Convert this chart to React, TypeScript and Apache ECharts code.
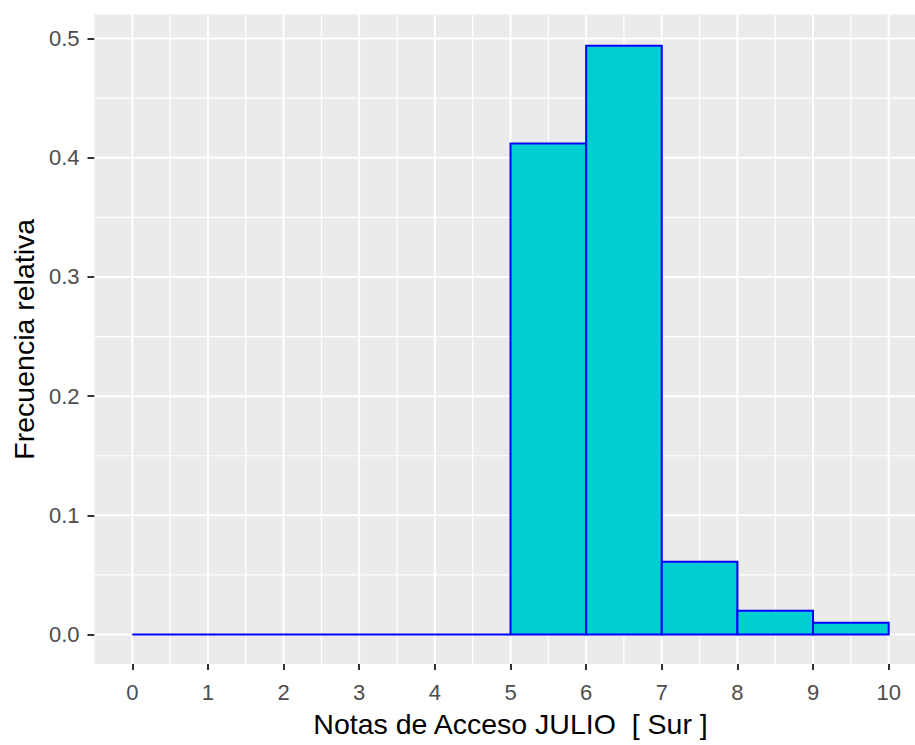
import React, { useEffect, useRef } from 'react';
import * as echarts from 'echarts';

// Histogram bins (start of each bin, width 1) and relative frequencies
const binStarts = [0, 1, 2, 3, 4, 5, 6, 7, 8, 9];
const binWidth = 1;
const relFreq = [0, 0, 0, 0, 0, 0.412, 0.494, 0.061, 0.02, 0.01];

// Axis ticks / grid lines
const xTicks = [0, 1, 2, 3, 4, 5, 6, 7, 8, 9, 10];
const xMinor = [0.5, 1.5, 2.5, 3.5, 4.5, 5.5, 6.5, 7.5, 8.5, 9.5];
const yTicks = [0, 0.1, 0.2, 0.3, 0.4, 0.5];
const yMinor = [0.05, 0.15, 0.25, 0.35, 0.45];

const xTitle = 'Notas de Acceso JULIO  [ Sur ]';
const yTitle = 'Frecuencia relativa';

const FONT = '"Liberation Sans", Arial, sans-serif';

export default function App() {
  const ref = useRef<HTMLDivElement>(null);

  useEffect(() => {
    if (!ref.current) return;
    const chart = echarts.init(ref.current, undefined, { renderer: 'svg' });

    const gridData: number[][] = [];
    xTicks.forEach((v) => gridData.push([0, v, 1]));
    xMinor.forEach((v) => gridData.push([0, v, 0]));
    yTicks.forEach((v) => gridData.push([1, v, 1]));
    yMinor.forEach((v) => gridData.push([1, v, 0]));

    const barData = binStarts.map((s, i) => [s, s + binWidth, relFreq[i]]);

    chart.setOption({
      animation: false,
      grid: {
        left: 94.5,
        top: 14.5,
        width: 832,
        height: 649.5,
        show: true,
        backgroundColor: '#EBEBEB',
        borderWidth: 0,
      },
      xAxis: {
        type: 'value',
        min: -0.5,
        max: 10.5,
        splitLine: { show: false },
        axisLine: { show: false, onZero: false },
        axisTick: {
          show: true,
          customValues: xTicks,
          length: 6,
          lineStyle: { color: '#333333', width: 2 },
        },
        axisLabel: {
          customValues: xTicks,
          color: '#4D4D4D',
          fontSize: 22,
          fontFamily: FONT,
          margin: 17,
        },
        name: xTitle,
        nameLocation: 'middle',
        nameGap: 45,
        nameTextStyle: { fontSize: 28.5, color: '#000000', fontFamily: FONT },
      },
      yAxis: {
        type: 'value',
        min: -0.0247,
        max: 0.5202,
        splitLine: { show: false },
        axisLine: { show: false, onZero: false },
        axisTick: {
          show: true,
          customValues: yTicks,
          length: 7,
          lineStyle: { color: '#333333', width: 2 },
        },
        axisLabel: {
          customValues: yTicks,
          color: '#4D4D4D',
          fontSize: 22,
          fontFamily: FONT,
          margin: 15,
          formatter: (v: number) => v.toFixed(1),
        },
        name: yTitle,
        nameLocation: 'middle',
        nameGap: 54,
        nameTextStyle: { fontSize: 28.5, color: '#000000', fontFamily: FONT },
      },
      series: [
        {
          type: 'custom',
          z: 1,
          silent: true,
          data: gridData,
          encode: { x: [], y: [] },
          renderItem: (params: any, api: any) => {
            const cs = params.coordSys;
            const orient = api.value(0);
            const v = api.value(1);
            const major = api.value(2) === 1;
            const w = major ? 2 : 1.2;
            if (orient === 0) {
              const px = api.coord([v, 0])[0];
              return {
                type: 'line',
                shape: { x1: px, y1: cs.y, x2: px, y2: cs.y + cs.height },
                style: { stroke: '#FFFFFF', lineWidth: w },
              };
            }
            const py = api.coord([0, v])[1];
            return {
              type: 'line',
              shape: { x1: cs.x, y1: py, x2: cs.x + cs.width, y2: py },
              style: { stroke: '#FFFFFF', lineWidth: w },
            };
          },
        },
        {
          type: 'custom',
          z: 3,
          data: barData,
          encode: { x: [0, 1], y: 2 },
          renderItem: (params: any, api: any) => {
            const x0 = api.value(0);
            const x1 = api.value(1);
            const y = api.value(2);
            const p0 = api.coord([x0, 0]);
            const p1 = api.coord([x1, y]);
            return {
              type: 'polygon',
              shape: {
                points: [
                  [p0[0], p0[1]],
                  [p1[0], p0[1]],
                  [p1[0], p1[1]],
                  [p0[0], p1[1]],
                ],
              },
              style: {
                fill: y > 0 ? '#00CED1' : 'none',
                stroke: '#0000FF',
                lineWidth: 2,
              },
            };
          },
        },
      ],
    });

    return () => chart.dispose();
  }, []);

  return (
    <div
      style={{
        position: 'fixed',
        left: 0,
        top: 0,
        width: 915,
        height: 745,
        overflow: 'hidden',
        background: '#FFFFFF',
      }}
    >
      <div ref={ref} style={{ width: 940, height: 745 }} />
    </div>
  );
}
